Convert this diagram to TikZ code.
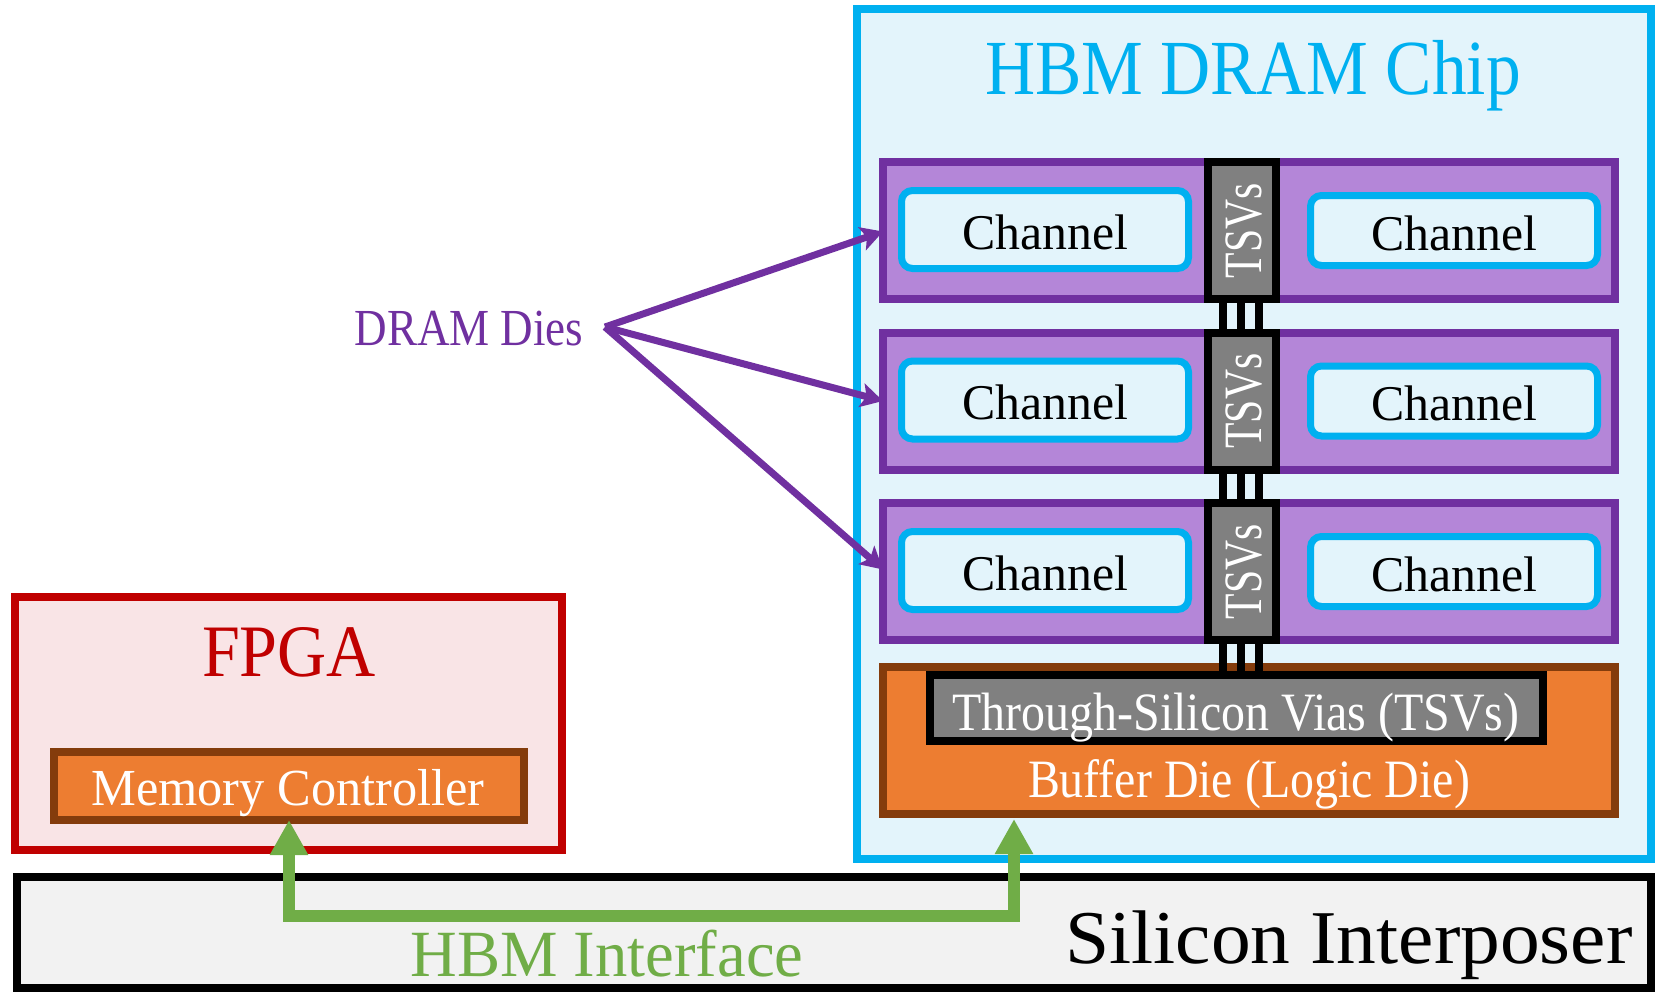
\documentclass[tikz,border=0pt]{standalone}
\usepackage{fontspec}
\setmainfont{Liberation Serif}
\usetikzlibrary{arrows.meta}

\definecolor{chipblue}{RGB}{0,176,240}
\definecolor{chipfill}{RGB}{227,244,251}
\definecolor{dieborder}{RGB}{112,48,160}
\definecolor{diefill}{RGB}{180,134,216}
\definecolor{tsvgray}{RGB}{128,128,128}
\definecolor{bufferfill}{RGB}{237,125,49}
\definecolor{bufferborder}{RGB}{132,60,12}
\definecolor{fpgared}{RGB}{192,0,0}
\definecolor{fpgafill}{RGB}{249,228,230}
\definecolor{interfill}{RGB}{242,242,242}
\definecolor{hbmgreen}{RGB}{112,173,71}

% text of a given width, natural height
\newcommand\fitw[2]{\resizebox{#1}{\height}{#2}}
\newcommand\fsz[1]{\fontsize{#1}{#1}\selectfont}

\begin{document}
\begin{tikzpicture}[x=1pt,y=-1pt,
  box/.style={rectangle, inner sep=0pt, outer sep=0pt, line width=8pt},
  interposer/.style={box, draw=black, fill=interfill},
  chip/.style={box, draw=chipblue, fill=chipfill},
  fpga/.style={box, draw=fpgared, fill=fpgafill},
  logic/.style={box, draw=bufferborder, fill=bufferfill},
  tsvbox/.style={box, draw=black, fill=tsvgray},
  die/.style={box, draw=dieborder, fill=diefill},
  channel/.style={box, line width=7pt, draw=chipblue, fill=chipfill, rounded corners=11pt},
  lbl/.style={inner sep=0pt, outer sep=0pt, anchor=base},
  wire/.style={line width=8pt, draw=black},
  iface/.style={draw=hbmgreen, line width=12pt,
    {Triangle[width=36pt,length=35pt]}-{Triangle[width=36pt,length=35pt]}},
  pointer/.style={draw=dieborder, line width=7pt,
    -{Stealth[length=22pt,width=24pt,inset=5pt]}}
]
\useasboundingbox (0,0) rectangle (1655,993);

% silicon interposer
\node[interposer, minimum width=1634pt, minimum height=111pt] (inter) at (834,932.5) {};

% HBM stack outline
\node[chip, minimum width=794pt, minimum height=850pt] (chip) at (1254,434) {};
\node[lbl, text=chipblue] (chiptitle) at (1253,94) {\fsz{78}\fitw{536pt}{HBM DRAM Chip}};

% FPGA with its memory controller
\node[fpga, minimum width=547.5pt, minimum height=253pt] (fpga) at (288.25,723.5) {};
\node[lbl, text=fpgared] (fpgatitle) at (289,676) {\fsz{74}\fitw{174pt}{FPGA}};
\node[logic, minimum width=470pt, minimum height=68pt] (mc) at (289,786) {};
\node[lbl, text=white] (mctext) at (288,805) {\fsz{52}\fitw{393pt}{Memory Controller}};

% buffer (logic) die
\node[logic, minimum width=732pt, minimum height=147pt] (buffer) at (1249,740.5) {};
\node[lbl, text=white] (buftext) at (1249,797) {\fsz{54}\fitw{442pt}{Buffer Die (Logic Die)}};

% vertical vias running through the stack
\foreach \x [count=\i] in {1223,1241,1259}
  \draw[wire] (\x,299) coordinate (viatop\i) -- (\x,675) coordinate (viabot\i);

\node[tsvbox, minimum width=613pt, minimum height=66pt] (tsvlong) at (1236.5,708) {};
\node[lbl, text=white] (tsvlongtext) at (1236,730) {\fsz{54}\fitw{567pt}{Through-Silicon Vias (TSVs)}};

% DRAM dies
\foreach \k/\cy in {1/230.5, 2/401, 3/571.5} {
  \node[die, minimum width=732pt, minimum height=137pt] (die\k) at (1249,\cy) {};
  \node[tsvbox, minimum width=68pt, minimum height=137pt] (tsv\k) at (1242,\cy) {};
  \node[rotate=90, inner sep=0pt, text=white] (tsvtext\k) at (1244,\cy)
    {\fsz{54}\fitw{95pt}{TSVs}};
  \node[channel, minimum width=287pt, minimum height=78pt] (chl\k) at (1045,\cy-1) {};
  \node[channel, minimum width=287pt, minimum height=70pt] (chr\k) at (1454,\cy) {};
  \node[lbl] (chltext\k) at (1045,\cy+18.5) {\fsz{50}\fitw{166pt}{Channel}};
  \node[lbl] (chrtext\k) at (1454,\cy+19.5) {\fsz{50}\fitw{166pt}{Channel}};
}

% die label with pointers
\node[lbl, text=dieborder] (dies) at (469,345) {\fsz{52}\fitw{229pt}{DRAM Dies}};
\coordinate (fan) at (605,327);
\draw[pointer] (fan) -- ([yshift=-1pt]die1.west);
\draw[pointer] (fan) -- (die2.west);
\draw[pointer] (fan) -- ([yshift=2pt]die3.west);

% HBM interface through the interposer
\coordinate (bufin) at (1014,819);
\draw[iface] (mc.south) -- ++(0,96) -| (bufin);
\node[lbl, text=hbmgreen] (ifacetext) at (607,976) {\fsz{66}\fitw{393pt}{HBM Interface}};
\node[lbl] (intertext) at (1349,963) {\fsz{76}\fitw{567pt}{Silicon Interposer}};
\end{tikzpicture}
\end{document}
